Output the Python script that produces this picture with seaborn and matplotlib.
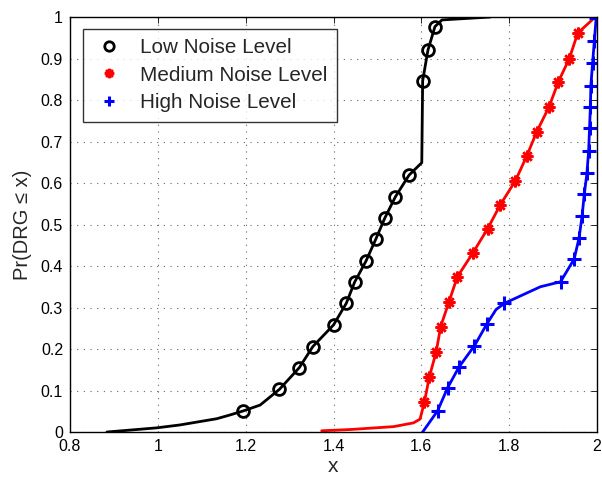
import matplotlib
matplotlib.use("Agg")
import matplotlib.pyplot as plt
from matplotlib.lines import Line2D
import seaborn as sns

# Empirical CDF curves of DRG for three noise levels
low_x = [0.884, 0.997, 1.05, 1.134, 1.164, 1.195, 1.233, 1.277, 1.322, 1.353, 1.400,
         1.429, 1.448, 1.474, 1.496, 1.517, 1.541, 1.572, 1.601, 1.603, 1.615, 1.631,
         1.647, 1.757]
low_y = [0.0, 0.010, 0.017, 0.032, 0.041, 0.051, 0.065, 0.103, 0.155, 0.206, 0.258,
         0.310, 0.361, 0.412, 0.464, 0.516, 0.567, 0.619, 0.649, 0.846, 0.920, 0.977,
         0.993, 1.0]
low_marks = [5, 7, 8, 9, 10, 11, 12, 13, 14, 15, 16, 17, 19, 20, 21]

med_x = [1.373, 1.438, 1.537, 1.582, 1.597, 1.607, 1.618, 1.634, 1.644, 1.663, 1.682,
         1.717, 1.751, 1.780, 1.814, 1.840, 1.863, 1.891, 1.912, 1.937, 1.956, 1.996]
med_y = [0.003, 0.006, 0.013, 0.022, 0.031, 0.072, 0.132, 0.194, 0.254, 0.314, 0.374,
         0.431, 0.490, 0.548, 0.605, 0.665, 0.724, 0.784, 0.844, 0.900, 0.961, 1.0]
med_marks = list(range(5, 21))

high_x = [1.603, 1.637, 1.660, 1.686, 1.721, 1.749, 1.770, 1.789, 1.871, 1.917, 1.948,
          1.959, 1.966, 1.971, 1.977, 1.981, 1.983, 1.985, 1.986, 1.990, 1.994, 1.998]
high_y = [0.0, 0.051, 0.107, 0.157, 0.208, 0.260, 0.295, 0.310, 0.350, 0.362, 0.417,
          0.467, 0.520, 0.573, 0.623, 0.678, 0.732, 0.784, 0.834, 0.890, 0.943, 0.997]
high_marks = [1, 2, 3, 4, 5, 7, 9, 10, 11, 12, 13, 14, 15, 16, 17, 18, 19, 20, 21]

labels = ["Low Noise Level", "Medium Noise Level", "High Noise Level"]
colors = ["black", "#ff0000", "#0000ff"]
x_ticks = [0.8, 1.0, 1.2, 1.4, 1.6, 1.8, 2.0]
x_tick_labels = ["0.8", "1", "1.2", "1.4", "1.6", "1.8", "2"]
y_ticks = [0, 0.1, 0.2, 0.3, 0.4, 0.5, 0.6, 0.7, 0.8, 0.9, 1.0]
y_tick_labels = ["0", "0.1", "0.2", "0.3", "0.4", "0.5", "0.6", "0.7", "0.8", "0.9", "1"]

sns.set_style("white")
plt.rcParams["font.family"] = ["Liberation Sans", "DejaVu Sans"]

fig = plt.figure(figsize=(6.02, 4.82), dpi=100)
ax = fig.add_axes([0.1163, 0.1037, 0.8754, 0.861])

marker_styles = [
    dict(marker="o", markersize=8.5, markerfacecolor="none", markeredgewidth=2.0),
    dict(marker=(8, 2, 0), markersize=8.5, markeredgewidth=1.8),
    dict(marker="+", markersize=9.5, markeredgewidth=2.2),
]
series = [(low_x, low_y, low_marks), (med_x, med_y, med_marks), (high_x, high_y, high_marks)]

for (xs, ys, marks), col, ms in zip(series, colors, marker_styles):
    sns.lineplot(x=xs, y=ys, sort=False, estimator=None, ax=ax, color=col,
                 linewidth=2.0, markevery=marks, markeredgecolor=col, **ms)

ax.set_xlim(0.8, 2.0)
ax.set_ylim(0, 1)
ax.set_xticks(x_ticks)
ax.set_xticklabels(x_tick_labels)
ax.set_yticks(y_ticks)
ax.set_yticklabels(y_tick_labels)
ax.tick_params(direction="in", top=True, right=True, length=4, width=0.6,
               labelsize=11.5, colors="black", pad=5)
ax.grid(True, color="#666666", linestyle=(0, (1, 5)), linewidth=0.8)
for sp in ax.spines.values():
    sp.set_color("black")
    sp.set_linewidth(1.0)

ax.set_xlabel("x", fontsize=15, labelpad=2)
ax.set_ylabel("Pr(DRG \u2264 x)", fontsize=14.5, labelpad=6)

handles = [Line2D([], [], linestyle="none", color=c, markeredgecolor=c, **ms)
           for c, ms in zip(colors, marker_styles)]
leg = ax.legend(handles, labels, loc="upper left", bbox_to_anchor=(0.025, 0.972),
                fontsize=14.9, frameon=True, fancybox=False, edgecolor="black",
                borderpad=0.45, labelspacing=0.42, handletextpad=0.7, handlelength=1.6,
                borderaxespad=0, markerscale=0.8)
leg.get_frame().set_linewidth(1.0)

fig.savefig("out.png", dpi=100)
